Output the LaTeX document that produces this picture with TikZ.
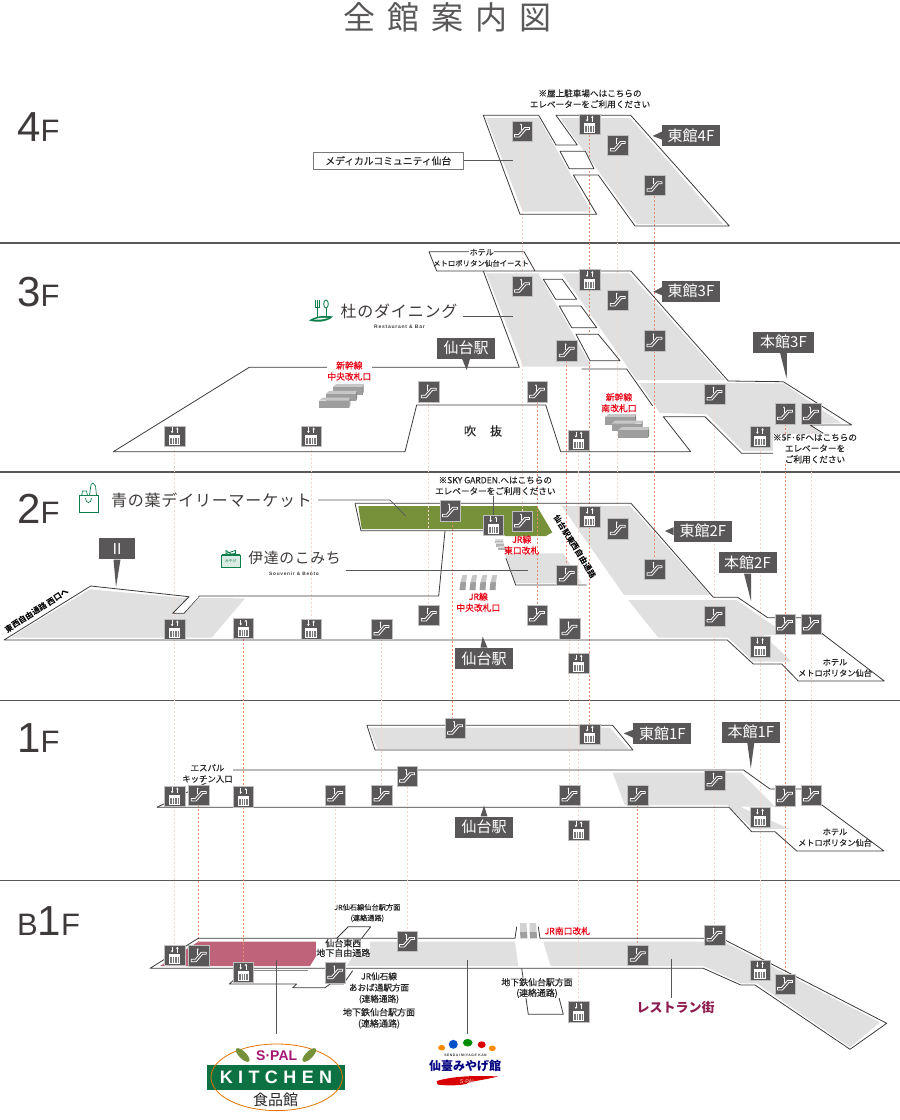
\documentclass[tikz,border=0pt]{standalone}
\usepackage{fontspec}
\usepackage{tikz}
\usetikzlibrary{calc,arrows.meta,shapes.geometric}
\setmainfont{Noto Sans CJK JP}
\newfontfamily\floorfont{Liberation Sans}
\newfontfamily\logofont[LetterSpace=5]{Noto Sans CJK JP}
\newfontfamily\lblfont[RawFeature={embolden=0.4}]{Noto Sans CJK JP}
\newfontfamily\wideserif[LetterSpace=30]{Liberation Sans Bold}
\newfontfamily\tinyfont[LetterSpace=15]{Liberation Sans Bold}
\newcommand{\fsz}[2]{\fontsize{#1}{#2}\selectfont}
\newcommand{\escbox}[2]{\node[iconbox] (#1) at (#2) {}; \pic at (#1) {escmark};}
\newcommand{\elvbox}[2]{\node[iconbox] (#1) at (#2) {}; \pic at (#1) {elvmark};}
\definecolor{icondark}{HTML}{595757}
\definecolor{linedark}{HTML}{3E3A39}
\definecolor{floorgray}{HTML}{E0E0E0}
\definecolor{dashpale}{HTML}{F7D5CA}
\definecolor{dashstrong}{HTML}{E58B6C}
\definecolor{marketgreen}{HTML}{76913A}
\definecolor{kitchenpink}{HTML}{BF637A}
\definecolor{logogreen}{HTML}{0E7F4A}
\definecolor{gatered}{HTML}{E60012}
\definecolor{wine}{HTML}{8D1D4F}
\pgfdeclarelayer{under}
\pgfsetlayers{under,main}
\tikzset{
    iconbox/.style={fill=icondark,draw=black!25,line width=.4pt,minimum size=20.5pt,inner sep=0pt},
    escmark/.pic={
        \draw[white,line width=.8pt,line join=round] (-7.5,3.5)--(-3.5,3.5)--(2.5,-3.5)--(7.5,-3.5)--(7.5,-1.5)--(4,-1.5)--(-2.5,6)--(-7.5,6)--cycle;
        \fill[white] (-1,-6.5) circle (.9);
        \draw[white,line width=.8pt] (-1,-6)--(-1,-1);
    },
    elvmark/.pic={
        \draw[white,line width=.7pt,-{Stealth[length=2.2pt,width=2.6pt]}] (-2.6,-8.6)--(-2.6,-2.8);
        \draw[white,line width=.7pt,-{Stealth[length=2.2pt,width=2.6pt]}] (2.6,-2.8)--(2.6,-8.6);
        \fill[white] (-5.7,-1.2) rectangle (5.7,9);
        \fill[icondark!80] (-4.6,2) rectangle (4.6,7.8);
        \foreach \x in {-2.3,0,2.3} \draw[white,line width=.6pt] (\x,2)--(\x,7.8);
    },
    gateblock/.pic={
        \fill[black!22] (0,0)--(3.5,-3)--(31,-3)--(30,0)--cycle;
        \fill[black!38] (0,0) rectangle (30,7.5);
        \fill[black!48] (30,0)--(31,-3)--(31,4.5)--(30,7.5)--cycle;
    },
    floorline/.style={draw=icondark,line width=1.6pt},
    outline/.style={draw=linedark,line width=.8pt,line join=round},
    leader/.style={draw=icondark,line width=.7pt},
    palecon/.style={draw=dashpale,line width=.8pt,dash pattern=on 2pt off 2pt},
    strongcon/.style={draw=dashstrong,line width=.8pt,dash pattern=on 2pt off 2pt},
    tagbox/.style={fill=icondark,text=white,inner sep=0pt,minimum width=58pt,minimum height=21pt,font=\fsz{15}{15}},
    txt/.style={inner sep=.5pt,align=center,text=black!85,font=\lblfont\fsz{8.6}{11}},
    redtxt/.style={inner sep=.5pt,align=center,text=gatered,fill=white,font=\lblfont\fsz{8.8}{11}},
    floortxt/.style={inner sep=0pt,anchor=base west,text=linedark},
}
\begin{document}
\begin{tikzpicture}[x=1pt,y=-1pt]
    \useasboundingbox (0,0) rectangle (900,1120);
    % title
    \node[inner sep=0pt,text=icondark,font=\fsz{32}{32}] (title) at (447,17) {全\hspace{12pt}館\hspace{12pt}案\hspace{12pt}内\hspace{12pt}図};
    % floor names
    \node[floortxt] (f4) at (17,141) {\floorfont\fsz{42}{42}4\fsz{31}{31}F};
    \node[floortxt] (f3) at (17,306) {\floorfont\fsz{42}{42}3\fsz{31}{31}F};
    \node[floortxt] (f2) at (17,523) {\floorfont\fsz{42}{42}2\fsz{31}{31}F};
    \node[floortxt] (f1) at (17,752) {\floorfont\fsz{42}{42}1\fsz{31}{31}F};
    \node[floortxt] (fb) at (17,935) {\floorfont\fsz{31}{31}B\fsz{42}{42}1\fsz{31}{31}F};
    \begin{pgfonlayer}{under}
    % floor lines
    \draw[floorline] (0,243)--(900,243);
    \draw[floorline] (0,472)--(900,472);
    \draw[floorline] (0,700.5)--(900,700.5);
    \draw[floorline] (0,880.5)--(900,880.5);
    % grey floors 4F
    \fill[floorgray] (486,118)--(538.7,118)--(591.7,211.7)--(522.7,211.7)--cycle;
    \fill[floorgray] (560,118)--(630,118)--(723,224)--(636.7,224)--cycle;
    % grey floors 3F
    \fill[floorgray] (486,273.3)--(538.3,273.3)--(591.7,366.7)--(523.3,366.7)--cycle;
    \fill[floorgray] (561.7,273.3)--(629.3,273.3)--(725,380)--(636.7,380)--cycle;
    \fill[floorgray] (639.3,383)--(783,383.3)--(841.7,423.3)--(808,424)--(850,450.5)--(743.3,451)--(706.7,414)--(660,413)--cycle;
    % grey floors 2F
    \fill[floorgray] (90,589.3)--(185,598)--(245,598.3)--(211.7,637.7)--(10,637.7)--cycle;
    \fill[marketgreen] (358.3,506)--(536.7,506)--(552.3,532.3)--(546,536)--(505,536)--(500,529)--(361.7,529)--cycle;
    \fill[floorgray] (505,553.3)--(563.3,553.3)--(581.7,583.3)--(515.7,583.3)--cycle;
    \fill[floorgray] (561.7,506)--(630,506)--(710,595)--(624,595)--cycle;
    \fill[floorgray] (628.3,600)--(736.7,600)--(775,626.7)--(785,635)--(763.3,635)--(791.7,661.7)--(753.3,661.7)--(728.3,637.7)--(658.3,637.7)--cycle;
    % grey floors 1F
    \fill[floorgray] (368.8,727.7)--(610,727.7)--(628.6,749)--(377.5,749)--cycle;
    \fill[floorgray] (612.6,772.7)--(741,772.7)--(775,806.7)--(740,806.7)--(789.5,829)--(753,829)--(727,805)--(624.8,805)--cycle;
    % grey floors B1F
    \fill[kitchenpink] (160,966)--(198.3,941.7)--(325,941.7)--(310,966)--cycle;
    \fill[floorgray] (346.7,966)--(361.7,941.7)--(515,941.7)--(518.3,966)--cycle;
    \fill[floorgray] (543.3,941.7)--(703.3,941.7)--(725,942.3)--(880,1022.3)--(850,1047.3)--(756.7,983.3)--(741.7,983.3)--(703.3,966)--(550.7,966)--cycle;
    \end{pgfonlayer}
    % 4F
    \escbox{esc4a}{522,131}
    \elvbox{elv4a}{589.7,124.3}
    \escbox{esc4b}{617.7,145}
    \escbox{esc4c}{654.5,185.3}
    % 3F
    \escbox{esc3a}{522,286.3}
    \elvbox{elv3a}{589.7,279.7}
    \escbox{esc3b}{617.7,300}
    \escbox{esc3c}{654.5,340.7}
    \escbox{esc3d}{566.7,350.7}
    \escbox{esc3e}{537,391.7}
    \escbox{esc3f}{428.7,391.7}
    \elvbox{elv3b}{174.7,436}
    \elvbox{elv3c}{311,436}
    \elvbox{elv3d}{578.5,440.3}
    \escbox{esc3g}{714.5,394}
    \escbox{esc3h}{785,413.7}
    \escbox{esc3i}{811,413.7}
    \elvbox{elv3e}{760,436.7}
    % 2F
    \elvbox{elv2a}{174.7,629}
    \elvbox{elv2b}{243.3,628.3}
    \elvbox{elv2c}{311,629}
    \escbox{esc2a}{381.5,629}
    \escbox{esc2b}{428.7,615}
    \escbox{esc2c}{450,510.7}
    \elvbox{elv2d}{493.3,525}
    \escbox{esc2d}{522,521}
    \elvbox{elv2e}{589.7,516.7}
    \escbox{esc2e}{617.7,528.7}
    \escbox{esc2f}{654.5,569.3}
    \escbox{esc2g}{566.7,575}
    \escbox{esc2h}{537,615}
    \escbox{esc2i}{569.5,628.7}
    \elvbox{elv2f}{578.5,663.3}
    \escbox{esc2j}{714.5,616}
    \elvbox{elv2g}{760,646.7}
    \escbox{esc2k}{785,624}
    \escbox{esc2l}{811,624}
    % 1F
    \escbox{esc1a}{455,728.3}
    \elvbox{elv1a}{589.7,734.3}
    \escbox{esc1b}{407,776.3}
    \elvbox{elv1b}{174.7,796}
    \escbox{esc1c}{198.7,795}
    \elvbox{elv1c}{243.3,796.7}
    \escbox{esc1d}{335.3,795}
    \escbox{esc1e}{381.5,795}
    \escbox{esc1f}{569.5,795}
    \elvbox{elv1d}{578.5,830}
    \escbox{esc1g}{637.8,795}
    \escbox{esc1h}{714.5,780}
    \escbox{esc1i}{785,795.7}
    \escbox{esc1j}{811,795}
    \elvbox{elv1e}{760,817.3}
    % B1F
    \elvbox{elvba}{174.7,955.3}
    \escbox{escba}{198.7,955.7}
    \elvbox{elvbb}{243.3,972.3}
    \escbox{escbb}{335.3,972.7}
    \escbox{escbc}{407,941}
    \escbox{escbd}{637.8,955.3}
    \escbox{escbe}{714.5,935}
    \elvbox{elvbc}{760,970.3}
    \escbox{escbf}{785,984}
    \elvbox{elvbd}{578.5,1011.7}
    \begin{pgfonlayer}{under}
    % vertical links between floors
    \foreach \a/\b in {esc4a/esc3a,esc3a/esc2d,esc4b/esc3b,esc3b/esc2e,elv3b/elv2a,elv2a/elv1b,elv1b/elvba,
        elv3c/elv2c,esc3f/esc2b,esc2a/esc1e,esc1d/escbb,esc1b/escbc,esc2i/esc1f,elv3d/elv2f,elv2f/elv1d,elv1d/elvbd,
        esc3g/esc2j,esc2j/esc1h,esc1h/escbe,elv3e/elv2g,elv2g/elv1e,elv1e/elvbc,esc3i/esc2l,esc2l/esc1j}
        \draw[palecon] (\a.south)--(\b.north);
    \foreach \a/\b in {elv4a/elv3a,elv3a/elv2e,elv2e/elv1a,esc4c/esc3c,esc3c/esc2f,esc3d/esc2g,esc3e/esc2h,
        elv2b/elv1c,elv1c/elvbb,esc1c/escba,esc1g/escbd,esc3h/esc2k,esc2k/esc1i,esc1i/escbf}
        \draw[strongcon] (\a.south)--(\b.north);
    \draw[strongcon] ([xshift=2.4pt]esc2c.south)--([xshift=-2.6pt]esc1a.north);
    % outlines 4F
    \draw[outline] (483.3,115.3)--(538.7,115.3)--(556,145)--(577.3,145)--(556,115.3)--(630.7,115.3)--(729.3,226)--(635,226)--(598.3,175)--(573.3,175)--(596.7,214.3)--(520,214.3)--cycle;
    \draw[outline,fill=white] (560,151.3)--(585.3,151.3)--(594,168.7)--(569.3,168.7)--cycle;
    % outlines 3F
    \draw[outline] (483.3,271)--(519.3,367.3)--(249.3,367.3)--(113.3,451.7)--(405,451.7)--(416.7,405)--(545.7,405)--(560.7,451.7)--(690.7,451.7)--(663.3,416.7)--(705,416.7)--(741.7,453.3)--(850.7,453.3)--(843,448);
    \draw[outline] (823.3,433.3)--(810,425)--(851.7,425)--(783.3,381.7)--(728.3,381)--(631,271)--(436.7,271)--(429,251.7)--(524,251.7)--(535,271);
    \draw[outline,fill=white] (543.3,279.3)--(562.3,279.3)--(576.7,299.3)--(555.7,299.3)--cycle;
    \draw[outline,fill=white] (559.3,306)--(581,306)--(596.7,327.7)--(571.7,327.7)--cycle;
    \draw[outline,fill=white] (576,334.3)--(598.3,334.3)--(620,360.7)--(590,360.7)--cycle;
    \draw[outline] (581.7,369)--(626.7,369)--(652.7,406);
    % outlines 2F
    \draw[outline] (355,503.3)--(631,503.3)--(713.3,597.3)--(737.7,597.3)--(767.7,617.7)--(801,617.7);
    \draw[outline] (821.7,633.3)--(884.3,681)--(798.3,681)--(781.7,664)--(753.3,664)--(727.3,640)--(4,640)--(90.7,586)--(189,596.7)--(172.7,613.3)--(184,613.3)--(199.3,596)--(438.7,596)--(445,531);
    \fill[white] (189.5,597.5)--(174.5,612.7)--(183.6,612.7)--(198.7,596.6)--cycle;
    \draw[outline] (355,503.3)--(361,530.7)--(483,530.7);
    \draw[outline] (506,558.3)--(515.7,585)--(586.7,585);
    % outlines 1F
    \draw[outline] (366.9,725.3)--(612.6,725.3)--(633,750)--(375,750)--cycle;
    \draw[outline] (157,807.3)--(232,770)--(743.5,770)--(770,789)--(801,789);
    \draw[outline] (157,807.3)--(729,807.3)--(751.7,831.7)--(775,831.7)--(796.8,851)--(884,851)--(821,804.3);
    % outlines B1F
    \draw[outline] (516.7,926.7)--(515,938.3)--(198.3,938.3)--(150,968.3)--(703.3,968.3)--(740.7,985)--(755,985)--(850,1049.3)--(886.7,1023.3)--(725,940)--(703.3,938.3)--(540,938.3)--(538.3,926.7);
    \draw[outline] (336.7,938.3)--(348.3,926.7)--(370.7,926.7)--(361.7,938.3);
    \draw[outline] (235,979)--(229.3,984)--(296.7,984)--(292.7,987.7)--(325,987.7)--(330,984)--(343.3,984)--(352.7,970.7);
    \draw[draw=icondark!70,line width=.7pt] (253.3,970.7)--(308.3,970.7);
    \draw[outline] (521.7,968.3)--(528.3,1014.3)--(563.3,1014.3)--(558.3,995);
    \end{pgfonlayer}
    % gates
    \foreach \i in {2,1,0}
        \pic at (319.3+6.7*\i,400.5-6.7*\i) {gateblock};
    \foreach \i in {0,1,2}
        \pic at (605+6.6*\i,417+6.6*\i) {gateblock};
    \foreach \x in {459.5,469.5,479.5,489.5} {
        \fill[black!38] (\x,590)--(\x+6,590)--(\x+6.5,582)--(\x+1,582)--cycle;
        \fill[black!22] (\x+1,582)--(\x+6.5,582)--(\x+7.5,575)--(\x+3,575)--cycle;
    }
    \foreach \i in {0,1,2} {
        \fill[black!30] (494.5+1.5*\i,541+3.4*\i) rectangle (502.5+1.5*\i,543.2+3.4*\i);
        \fill[black!15] (494.5+1.5*\i,539+3.4*\i) rectangle (502.5+1.5*\i,541+3.4*\i);
    }
    \foreach \x in {520,529.6} {
        \fill[black!18] (\x,923)--(\x+6.5,923)--(\x+7,932)--(\x,932)--cycle;
        \fill[black!38] (\x,932)--(\x+7,932)--(\x+7.5,938.3)--(\x+.5,938.3)--cycle;
    }
    % name tags
    \node[tagbox] (eastfour) at (691,135.5) {東館4F};
    \fill[icondark] ($(eastfour.west)+(0,-4)$)--(652.7,136)--($(eastfour.west)+(0,4)$)--cycle;
    \node[tagbox] (eastthree) at (691,291.2) {東館3F};
    \fill[icondark] ($(eastthree.west)+(0,-4)$)--(653.3,291.7)--($(eastthree.west)+(0,4)$)--cycle;
    \node[tagbox,minimum width=61pt] (mainthree) at (783.5,342) {本館3F};
    \fill[icondark] ($(mainthree.south)+(-3.5,0)$)--(786.7,379)--($(mainthree.south)+(3.5,0)$)--cycle;
    \node[tagbox] (stathree) at (466,348) {仙台駅};
    \fill[icondark] ($(stathree.south)+(-4,0)$)--(466.7,370)--($(stathree.south)+(4,0)$)--cycle;
    \node[tagbox,minimum width=36pt] (wing) at (117,548.8) {Ⅱ};
    \fill[icondark] ($(wing.south)+(-3.5,0)$)--(116,587.3)--($(wing.south)+(3.5,0)$)--cycle;
    \node[tagbox] (easttwo) at (702.8,531.2) {東館2F};
    \fill[icondark] ($(easttwo.west)+(0,-4)$)--(665,531)--($(easttwo.west)+(0,4)$)--cycle;
    \node[tagbox] (maintwo) at (747.5,562.8) {本館2F};
    \fill[icondark] ($(maintwo.south)+(-3.5,0)$)--(751,601)--($(maintwo.south)+(3.5,0)$)--cycle;
    \node[tagbox] (statwo) at (484,658.3) {仙台駅};
    \fill[icondark] ($(statwo.north)+(-3.5,0)$)--(482.7,636.7)--($(statwo.north)+(3.5,0)$)--cycle;
    \node[tagbox] (eastone) at (662.3,733.8) {東館1F};
    \fill[icondark] ($(eastone.west)+(0,-4)$)--(623.8,733.3)--($(eastone.west)+(0,4)$)--cycle;
    \node[tagbox] (mainone) at (750.8,732.2) {本館1F};
    \fill[icondark] ($(mainone.south)+(-3.5,0)$)--(750.8,768.3)--($(mainone.south)+(3.5,0)$)--cycle;
    \node[tagbox] (staone) at (484,827) {仙台駅};
    \fill[icondark] ($(staone.north)+(-3.5,0)$)--(484,805.7)--($(staone.north)+(3.5,0)$)--cycle;
    % texts 4F
    \node[txt] (roofnote) at (590,98.8) {※屋上駐車場へはこちらの\\エレベーターをご利用ください};
    \node[draw=icondark!80,line width=.6pt,inner sep=0pt,minimum width=150pt,minimum height=17pt,font=\lblfont\fsz{9.8}{10},text=black!85] (medical) at (388.3,160.8) {メディカルコミュニティ仙台};
    \coordinate (medend) at (513.3,160.8);
    \draw[leader] (medical)--(medend);
    % texts 3F
    \node[txt,fill=white,font=\lblfont\fsz{8}{11}] (hotelup) at (481.7,252.3) {ホテル};
    \node[txt,font=\lblfont\fsz{7.4}{11}] (hoteleast) at (481,263.3) {メトロポリタン仙台イースト};
    \node[redtxt] (shinchuo) at (349.3,371) {新幹線\\中央改札口};
    \node[redtxt] (shinsouth) at (619,402.7) {新幹線\\南改札口};
    \node[txt,font=\lblfont\fsz{12}{12}] (atrium) at (483,431) {吹\hspace{14pt}抜};
    \node[txt,fill=white,inner sep=0pt] (floornote) at (815,448.6) {※5F·6Fへはこちらの\\エレベーターを\\ご利用ください};
    \node[inner sep=0pt,font=\logofont\fsz{16}{17},text=linedark] (dining) at (399,311) {杜のダイニング};
    \node[inner sep=0pt,font=\tinyfont\fsz{5}{5},text=linedark] (diningsub) at (399.5,326.7) {Restaurant \& Bar};
    \coordinate (dinstart) at (462.7,316);
    \coordinate (dinend) at (513.3,316);
    \draw[leader] (dinstart)--(dinend);
    \draw[logogreen,line width=.9pt] (315,300)--(315,307)--(319.5,307)--(319.5,300) (317.2,300)--(317.2,317);
    \draw[logogreen,line width=.9pt] (326,304) ellipse (2.3 and 4);
    \draw[logogreen,line width=.9pt] (326,308)--(326,317);
    \fill[logogreen] (309,320.5) .. controls (316,315.5) and (325,315.5) .. (333,316.5) .. controls (327,322.5) and (316,322.5) .. (309,320.5)--cycle;
    \fill[white] (314,319.5) .. controls (319,317.5) and (323,317.5) .. (328,318) .. controls (323,319.5) and (319,320) .. (314,319.5)--cycle;
    % texts 2F
    \node[inner sep=0pt,font=\logofont\fsz{16}{17},text=linedark] (market) at (211.5,500.5) {青の葉デイリーマーケット};
    \coordinate (markstart) at (318,500);
    \coordinate (markmid) at (390,500);
    \coordinate (markend) at (405.7,516);
    \draw[leader] (markstart)--(markmid)--(markend);
    \draw[logogreen,line width=.8pt] (79.3,495.3) rectangle (98.3,512.3);
    \draw[logogreen,line width=.7pt] (85.5,498) .. controls (85.5,504) and (91.5,504) .. (91.5,498);
    \draw[logogreen,line width=.7pt] (81.7,495.3)--(82.5,491)--(86.5,491)--(87.5,495.3);
    \draw[logogreen,line width=.7pt] (89.5,495.3)--(91,484.5)--(93,483)--(95.5,486)--(96.5,495.3);
    \node[inner sep=0pt,font=\logofont\fsz{14.8}{16},text=linedark] (souvenir) at (294.5,558) {伊達のこみち};
    \node[inner sep=0pt,font=\tinyfont\fsz{4.8}{5},text=linedark] (souvsub) at (294,574) {Souvenir \& Bento};
    \coordinate (souvstart) at (345.7,570);
    \coordinate (souvend) at (528.3,570);
    \draw[leader] (souvstart)--(souvend);
    \draw[logogreen,line width=.8pt,fill=logogreen!15] (221.5,555.5) rectangle (240.2,567);
    \draw[logogreen,line width=1.5pt] (221.5,555)--(240.2,555);
    \draw[logogreen,line width=.8pt] (230.8,554)--(226,550.5)--(226,553.5)--(235.5,550.5)--(235.5,553.5)--cycle;
    \node[inner sep=0pt,font=\fsz{3.8}{4},text=logogreen] (boxword) at (230.8,561.5) {みやげ};
    \node[txt] (skynote) at (495.3,485.8) {※SKY GARDEN.へはこちらの\\エレベーターをご利用ください};
    \draw[leader] (skynote.south -| elv2d.north)--(elv2d.north);
    \node[redtxt,fill=none] (jreast) at (521.7,545) {JR線\\東口改札};
    \node[redtxt] (jrcentral) at (478.3,602.2) {JR線\\中央改札口};
    \node[txt,inner sep=0pt,rotate=-58,font=\bfseries\fsz{8}{8},text=black] (deck) at (575,546.7) {仙台駅東西自由通路};
    \node[txt,inner sep=0pt,rotate=32.7,font=\bfseries\fsz{8}{8},text=black] (deckwest) at (36.7,610.7) {東西自由通路 西口へ};
    \node[txt,font=\lblfont\fsz{8.2}{11}] (hotelmetro) at (835,667.8) {ホテル\\メトロポリタン仙台};
    % texts 1F
    \node[txt,fill=white,font=\lblfont\fsz{8.4}{11}] (spalgate) at (207.5,773.5) {エスパル\\キッチン入口};
    \node[txt,font=\lblfont\fsz{8.2}{11}] (hotelmetrob) at (835,837.5) {ホテル\\メトロポリタン仙台};
    % texts B1F
    \node[txt,font=\lblfont\fsz{7.2}{10.6}] (senseki) at (367.3,913) {JR仙石線仙台駅方面\\(連絡通路)};
    \node[txt,fill=white,font=\lblfont\fsz{9}{9.6},inner sep=0pt] (eastwest) at (343.3,948) {仙台東西\\地下自由通路};
    \node[txt,font=\lblfont\fsz{8.6}{11.2}] (aoba) at (379,988) {JR仙石線\\あおば通駅方面\\(連絡通路)};
    \node[txt,font=\lblfont\fsz{9}{11.2}] (subwaya) at (379,1018.3) {地下鉄仙台駅方面\\(連絡通路)};
    \node[txt,fill=white,font=\lblfont\fsz{8.9}{10.6}] (subwayb) at (537,988) {地下鉄仙台駅方面\\(連絡通路)};
    \node[redtxt,fill=none] (jrsouth) at (567.3,931) {JR南口改札};
    \node[inner sep=0pt,font=\bfseries\fsz{13}{13},text=wine] (restaurant) at (675.5,1008) {レストラン街};
    \coordinate (resttop) at (671.7,959);
    \coordinate (restbot) at (671.7,997.7);
    \draw[leader] (resttop)--(restbot);
    % kitchen logo
    \coordinate (kittop) at (276.7,960);
    \coordinate (kitbot) at (276.7,1034.3);
    \draw[leader] (kittop)--(kitbot);
    \node[inner sep=0pt,minimum width=137.4pt,minimum height=24.4pt,fill=logogreen!90!black,text=white,font=\wideserif\fsz{18}{18}] (kitchen) at (276,1077.5) {KITCHEN};
    \node[draw=orange!90!black,line width=.8pt,ellipse,inner sep=0pt,minimum width=131.4pt,minimum height=66.6pt] (kitring) at (276.7,1077.3) {};
    \node[inner sep=0pt,text=wine!80!magenta,font=\bfseries\floorfont\fsz{14}{14}] (spal) at (276.7,1056) {S·PAL};
    \node[inner sep=0pt,text=black!85,font=\fsz{15}{15}] (food) at (275.7,1100) {食品館};
    \fill[marketgreen,rotate around={-45:(242.7,1055)}] (242.7,1055) ellipse (9 and 3.6);
    \fill[marketgreen,rotate around={45:(309.3,1055)}] (309.3,1055) ellipse (9 and 3.6);
    % miyage logo
    \coordinate (miytop) at (467.3,960);
    \coordinate (miybot) at (467.3,1034);
    \draw[leader] (miytop)--(miybot);
    \fill[orange!90!yellow] (441.7,1047.7) ellipse (3.5 and 2.8);
    \fill[blue!60!cyan!80!black] (453.3,1044.3) ellipse (4.5 and 4.5);
    \fill[green!55!black] (467.7,1042.7) ellipse (4.8 and 3.8);
    \fill[red!85!black] (481.7,1044.7) ellipse (4 and 3.4);
    \fill[orange!90!yellow] (492.3,1048.3) ellipse (3.5 and 2.8);
    \node[inner sep=0pt,text=black!80,font=\tinyfont\fsz{3.4}{4}] (miysub) at (465.5,1055) {SENDAI MIYAGE KAN};
    \node[inner sep=0pt,text=blue!50!black,font=\bfseries\fsz{12}{12}] (miyage) at (465,1066) {仙臺みやげ館};
    \fill[red!85!black] (436.7,1081) .. controls (455,1075.5) and (480,1075.5) .. (498,1076.5) .. controls (485,1080) and (470,1081) .. (466,1084) .. controls (455,1086) and (445,1085.5) .. (437.5,1084.5)--cycle;
    \node[inner sep=0pt,text=white!85!black,font=\floorfont\fsz{5.5}{6}] (miyspal) at (467.7,1081.7) {S·PAL};
\end{tikzpicture}
\end{document}
